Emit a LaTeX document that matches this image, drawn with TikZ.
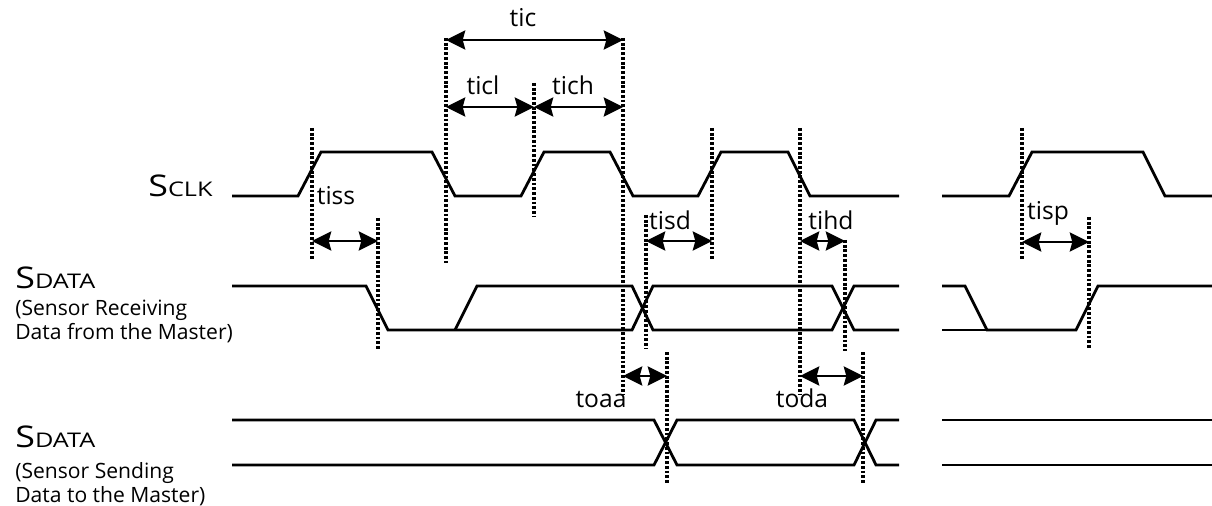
\documentclass[tikz,border=0pt]{standalone}
\usepackage{fontspec}
\setmainfont{Open Sans}
\usetikzlibrary{arrows.meta}

% signal names with wide small caps
\newcommand\capS{{\addfontfeature{FakeStretch=1.2}\fontsize{17}{19}\selectfont S}}
\newcommand\smc[1]{{\addfontfeature{FakeStretch=1.25}\fontsize{11.5}{13}\selectfont #1}}

\begin{document}
\begin{tikzpicture}[x=0.02cm, y=-0.02cm,
  wave/.style={line width=1.6pt},
  guide/.style={line width=1.8pt, dash pattern=on 1.6pt off 1.1pt},
  dim/.style={line width=0.9pt, {Stealth[length=11pt,width=11pt,inset=1.5pt]}-{Stealth[length=11pt,width=11pt,inset=1.5pt]}},
  tlabel/.style={anchor=base, inner sep=0pt, font=\fontsize{14}{16}\selectfont},
  sig/.style={anchor=base west, inner sep=0pt},
  note/.style={anchor=base west, inner sep=0pt, font=\fontsize{12}{13}\selectfont}]
\useasboundingbox (0,0) rectangle (1212,506);

% Signal names
\node[sig] (sclk) at (148,197) {\capS\smc{CLK}};
\node[sig] (rxname) at (15,288) {\capS\smc{DATA}};
\node[note] (rxa) at (15,315) {(Sensor Receiving};
\node[note] (rxb) at (15,339) {Data from the Master)};
\node[sig] (txname) at (15,447) {\capS\smc{DATA}};
\node[note] (txa) at (15,478) {(Sensor Sending};
\node[note] (txb) at (15,502) {Data to the Master)};

% SCLK
\draw[wave] (232,196) -- (298,196) -- (321,152) -- (432,152) -- (455,196) -- (521,196)
  -- (544,152) -- (610,152) -- (633,196) -- (698,196) -- (721,152) -- (788,152)
  -- (810,196) -- (899,196);
\draw[wave] (942,196) -- (1009,196) -- (1032,152) -- (1143,152) -- (1165,196) -- (1212,196);

% SDATA, sensor receiving
\draw[wave] (232,286) -- (366,286) -- (388,330) -- (632,330) -- (653,286) -- (832,286)
  -- (854,330) -- (899,330);
\draw[wave] (455,330) -- (477,286) -- (632,286) -- (653,330) -- (832,330) -- (854,286) -- (899,286);
\draw[wave] (942,286) -- (965,286) -- (987,330) -- (1076,330) -- (1098,286) -- (1212,286);
\draw[line width=1pt] (942,330) -- (987,330);

% SDATA, sensor sending
\draw[wave] (232,420) -- (654,420) -- (677,465) -- (854,465) -- (876,420) -- (899,420);
\draw[wave] (232,465) -- (654,465) -- (677,420) -- (854,420) -- (876,465) -- (899,465);
\draw[wave] (942,420) -- (1212,420);
\draw[wave] (942,465) -- (1212,465);

% Dotted guides
\foreach \x/\a/\b in {312/128/260, 378/218/350, 446/38/263, 534/83/216, 623/38/395,
  646/215/349, 712/128/260, 800/128/395, 845/240/351, 667/352/483, 863/352/483,
  1022/128/260, 1089/217/349}
  \draw[guide] (\x,\a) -- (\x,\b);

% Arrow ends
\coordinate (ticA) at (446,40);   \coordinate (ticB) at (623,40);
\coordinate (ticlA) at (446,107); \coordinate (ticlB) at (534,107);
\coordinate (tichB) at (623,107);
\coordinate (tissA) at (312,241); \coordinate (tissB) at (378,241);
\coordinate (tisdA) at (646,241); \coordinate (tisdB) at (712,241);
\coordinate (tihdA) at (800,241); \coordinate (tihdB) at (845,241);
\coordinate (tispA) at (1022,242); \coordinate (tispB) at (1089,242);
\coordinate (toaaA) at (623,376); \coordinate (toaaB) at (667,376);
\coordinate (todaA) at (800,376); \coordinate (todaB) at (863,376);

% Arrows
\draw[dim] (ticA) -- (ticB);
\draw[dim] (ticlA) -- (ticlB);
\draw[dim] (ticlB) -- (tichB);
\draw[dim] (tissA) -- (tissB);
\draw[dim] (tisdA) -- (tisdB);
\draw[dim] (tihdA) -- (tihdB);
\draw[dim] (tispA) -- (tispB);
\draw[dim] (toaaA) -- (toaaB);
\draw[dim] (todaA) -- (todaB);

% Timing labels
\node[tlabel] (tic) at (523,27) {tic};
\node[tlabel] (ticl) at (483,95) {ticl};
\node[tlabel] (tich) at (573,95) {tich};
\node[tlabel] (tiss) at (336,205) {tiss};
\node[tlabel] (tisd) at (670,230) {tisd};
\node[tlabel] (tihd) at (831,230) {tihd};
\node[tlabel] (tisp) at (1048,220) {tisp};
\node[tlabel] (toaa) at (601,407) {toaa};
\node[tlabel] (toda) at (802,407) {toda};

\end{tikzpicture}
\end{document}
